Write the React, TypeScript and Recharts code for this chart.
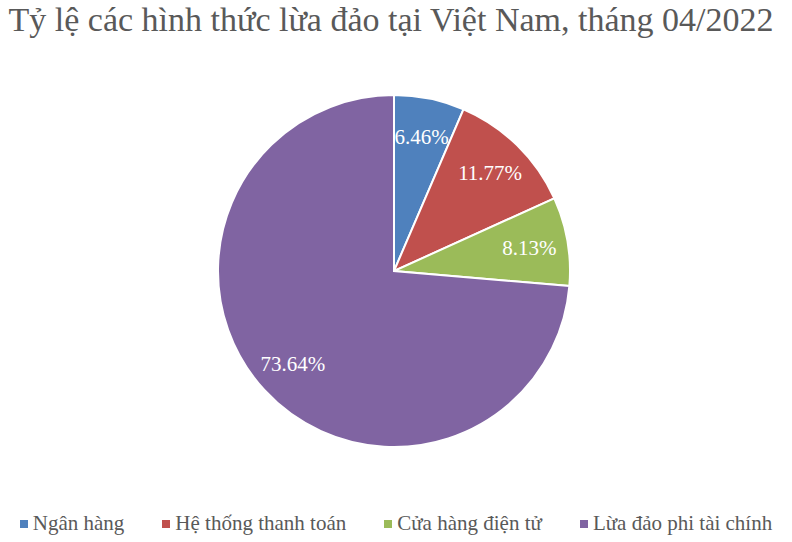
import React from "react";
import { PieChart, Pie, Cell, Legend } from "recharts";

const categories = ["Ngân hàng", "Hệ thống thanh toán", "Cửa hàng điện tử", "Lừa đảo phi tài chính"];
const values = [6.46, 11.77, 8.13, 73.64];
const colors = ["#4F81BD", "#C0504D", "#9BBB59", "#8064A2"];
const title = "Tỷ lệ các hình thức lừa đảo tại Việt Nam, tháng 04/2022";

const data = categories.map((name, i) => ({ name, value: values[i] }));
const FONT = "'Liberation Serif', 'DejaVu Serif', serif";
const RAD = Math.PI / 180;

const renderLabel = (props: any) => {
  const { cx, cy, midAngle, outerRadius, value } = props;
  const r = outerRadius * 0.78;
  const x = cx + r * Math.cos(-midAngle * RAD);
  const y = cy + r * Math.sin(-midAngle * RAD);
  return (
    <text x={x} y={y} fill="#FFFFFF" fontSize={21} fontFamily={FONT} textAnchor="middle" dominantBaseline="central">
      {value.toFixed(2)}%
    </text>
  );
};

const renderLegend = () => (
  <div style={{ display: "flex", justifyContent: "center", gap: 38, fontFamily: FONT, fontSize: 21, color: "#595959" }}>
    {categories.map((c, i) => (
      <div key={c} style={{ display: "flex", alignItems: "center" }}>
        <span style={{ width: 8, height: 8, background: colors[i], display: "inline-block", marginRight: 5 }} />
        <span>{c}</span>
      </div>
    ))}
  </div>
);

export default function App() {
  return (
    <div style={{ position: "absolute", left: 0, top: 0, width: 792, height: 542, background: "#FFFFFF" }}>
      <div
        style={{
          position: "absolute",
          left: 0,
          top: 1,
          width: 782,
          textAlign: "center",
          fontFamily: FONT,
          fontSize: 34,
          color: "#595959",
          whiteSpace: "nowrap",
        }}
      >
        {title}
      </div>
      <PieChart width={792} height={542} margin={{ top: 0, right: 0, bottom: 0, left: 0 }}>
        <Pie
          data={data}
          dataKey="value"
          nameKey="name"
          cx={394}
          cy={271}
          outerRadius={176}
          startAngle={90}
          endAngle={-270}
          stroke="#FFFFFF"
          strokeWidth={2}
          label={renderLabel}
          labelLine={false}
          isAnimationActive={false}
        >
          {data.map((d, i) => (
            <Cell key={d.name} fill={colors[i]} />
          ))}
        </Pie>
        <Legend verticalAlign="bottom" align="center" content={renderLegend} wrapperStyle={{ bottom: 6 }} />
      </PieChart>
    </div>
  );
}
